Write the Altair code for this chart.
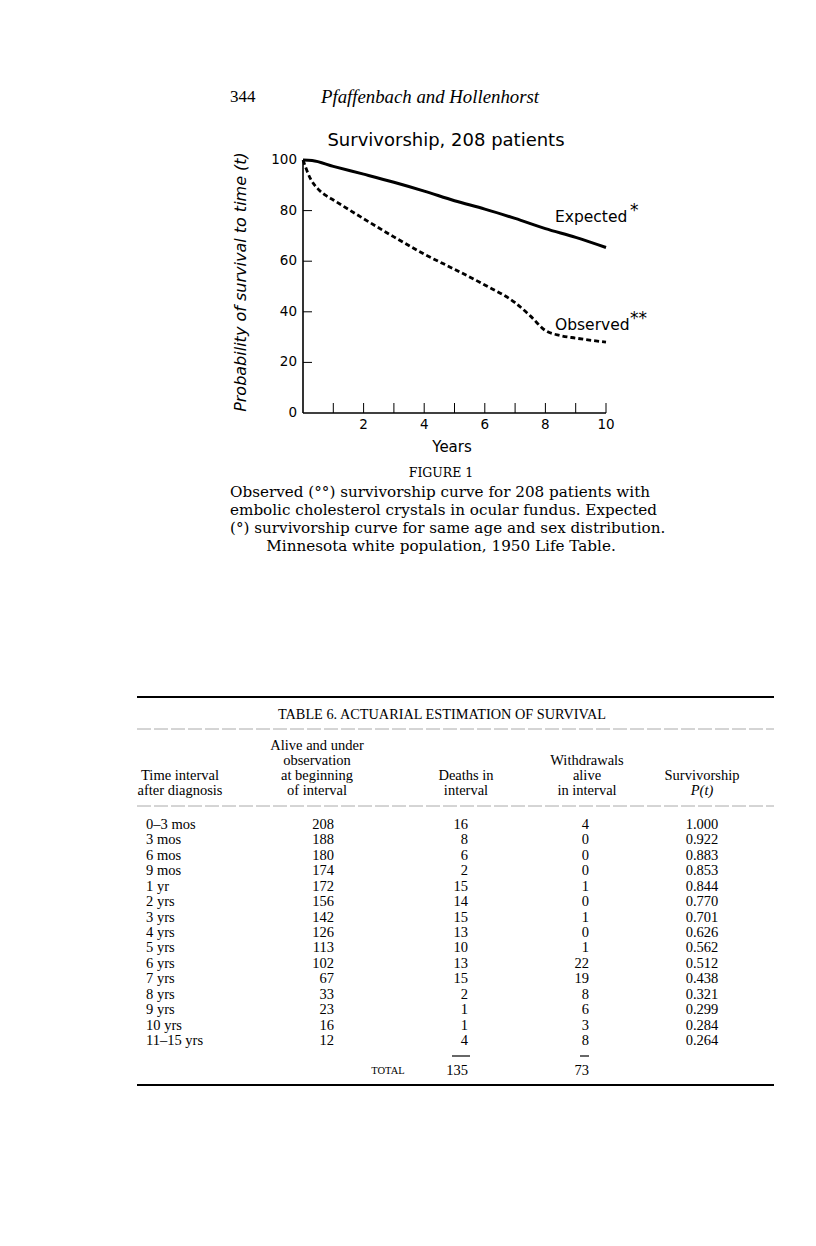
import altair as alt
import pandas as pd

# ---------------- data: survival curves ----------------
exp_years = [0, 0.3, 1, 2, 3, 4, 5, 6, 7, 8, 9, 10]
exp_pct = [100, 99.8, 97.5, 94.4, 91.2, 87.7, 83.9, 80.6, 76.9, 72.9, 69.4, 65.4]
obs_years = [0, 0.25, 0.5, 0.75, 1, 2, 3, 4, 5, 6, 7, 7.5, 8, 8.5, 9, 10]
obs_pct = [100, 92.5, 88.5, 86.0, 84.2, 76.8, 69.6, 62.8, 56.8, 50.6, 43.6, 38.4, 32.6, 30.6, 29.6, 28.0]

y_tick_values = [20, 40, 60, 80]
y_label_values = [0, 20, 40, 60, 80, 100]
x_tick_values = [1, 2, 3, 4, 5, 6, 7, 8, 9, 10]
x_label_values = [2, 4, 6, 8, 10]

# ---------------- data: table 6 ----------------
intervals = ["0–3 mos", "3 mos", "6 mos", "9 mos", "1 yr", "2 yrs", "3 yrs", "4 yrs",
             "5 yrs", "6 yrs", "7 yrs", "8 yrs", "9 yrs", "10 yrs", "11–15 yrs"]
alive = [208, 188, 180, 174, 172, 156, 142, 126, 113, 102, 67, 33, 23, 16, 12]
deaths = [16, 8, 6, 2, 15, 14, 15, 13, 10, 13, 15, 2, 1, 1, 4]
withdrawals = [4, 0, 0, 0, 1, 0, 1, 0, 1, 22, 19, 8, 6, 3, 8]
survivorship = ["1.000", "0.922", "0.883", "0.853", "0.844", "0.770", "0.701", "0.626",
                "0.562", "0.512", "0.438", "0.321", "0.299", "0.284", "0.264"]
total_deaths = "135"
total_withdrawals = "73"

headers = [
    ["Time interval", "after diagnosis"],
    ["Alive and under", "observation", "at beginning", "of interval"],
    ["Deaths in", "interval"],
    ["Withdrawals", "alive", "in interval"],
    ["Survivorship", "P(t)"],
]

caption_lines = [
    "Observed (°°) survivorship curve for 208 patients with",
    "embolic cholesterol crystals in ocular fundus. Expected",
    "(°) survivorship curve for same age and sex distribution.",
]
caption_last = "Minnesota white population, 1950 Life Table."

# ---------------- layout helpers ----------------
SANS = "DejaVu Sans"
SERIF = "Liberation Serif"
CSERIF = "DejaVu Serif"


def P(v):  # page coordinate -> chart coordinate (8px page margin)
    return v - 8


XS = alt.Scale(domain=[0, 10], range=[P(303), P(606)], nice=False, zero=False)
YS = alt.Scale(domain=[0, 100], range=[P(413), P(160)], nice=False, zero=False)


def label(text, x, y, size, font=SERIF, **kw):
    return alt.Chart(pd.DataFrame({"s": [text]})).mark_text(
        x=P(x), y=P(y), fontSize=size, font=font, color="black", baseline="middle", **kw
    ).encode(text="s:N")


def hrule(x1, x2, y, width=1.0, color="black", dash=None):
    kw = {} if dash is None else {"strokeDash": dash}
    return alt.Chart(pd.DataFrame({"a": [0]})).mark_rule(
        color=color, strokeWidth=width, **kw
    ).encode(x=alt.value(P(x1)), x2=alt.value(P(x2)), y=alt.value(P(y)))


layers = []

# ---------------- page header ----------------
layers.append(label("344", 230, 97, 17, SERIF, align="left"))
layers.append(label("Pfaffenbach and Hollenhorst", 430, 97, 18.8, SERIF, align="center", fontStyle="italic"))

# ---------------- figure ----------------
exp_df = pd.DataFrame({"t": exp_years, "v": exp_pct})
obs_df = pd.DataFrame({"t": obs_years, "v": obs_pct})

layers.append(
    alt.Chart(exp_df).mark_line(color="black", strokeWidth=3, interpolate="monotone").encode(
        x=alt.X("t:Q", scale=XS, axis=None), y=alt.Y("v:Q", scale=YS, axis=None)
    )
)
layers.append(
    alt.Chart(obs_df).mark_line(color="black", strokeWidth=2.8, strokeDash=[5, 3], interpolate="monotone").encode(
        x=alt.X("t:Q", scale=XS, axis=None), y=alt.Y("v:Q", scale=YS, axis=None)
    )
)

# axis lines
frame_df = pd.DataFrame({"x0": [0, 0], "x1": [0, 10], "y0": [0, 0], "y1": [100, 0]})
layers.append(
    alt.Chart(frame_df).mark_rule(color="black", strokeWidth=1.6).encode(
        x=alt.X("x0:Q", scale=XS, axis=None), x2="x1:Q",
        y=alt.Y("y0:Q", scale=YS, axis=None), y2="y1:Q",
    )
)
# y ticks (inward)
layers.append(
    alt.Chart(pd.DataFrame({"v": y_tick_values})).mark_rule(color="black", strokeWidth=1).encode(
        y=alt.Y("v:Q", scale=YS, axis=None), x=alt.value(P(303)), x2=alt.value(P(312))
    )
)
# x ticks (inward)
layers.append(
    alt.Chart(pd.DataFrame({"t": x_tick_values})).mark_rule(color="black", strokeWidth=1).encode(
        x=alt.X("t:Q", scale=XS, axis=None), y=alt.value(P(413)), y2=alt.value(P(403))
    )
)
# tick labels
layers.append(
    alt.Chart(pd.DataFrame({"v": y_label_values})).mark_text(
        x=P(297), align="right", baseline="middle", font=SANS, fontSize=13.5, color="black"
    ).encode(y=alt.Y("v:Q", scale=YS, axis=None), text="v:N")
)
layers.append(
    alt.Chart(pd.DataFrame({"t": x_label_values})).mark_text(
        y=P(425), align="center", baseline="middle", font=SANS, fontSize=13.5, color="black"
    ).encode(x=alt.X("t:Q", scale=XS, axis=None), text="t:N")
)

layers.append(label("Survivorship, 208 patients", 446, 141, 18, SANS, align="center"))
layers.append(label("Years", 452, 447, 15, SANS, align="center"))
layers.append(label("Probability of survival to time (t)", 241, 282, 16, SANS, align="center",
                    angle=270, fontStyle="italic"))
layers.append(label("Expected", 555, 217, 15.5, SANS, align="left"))
layers.append(label("*", 630, 211, 17, SANS, align="left"))
layers.append(label("Observed", 555, 325, 15.5, SANS, align="left"))
layers.append(label("**", 630, 319, 17, SANS, align="left"))

# ---------------- caption ----------------
layers.append(label("FIGURE 1", 441, 473, 12.5, CSERIF, align="center"))
for i, line in enumerate(caption_lines):
    layers.append(label(line, 230, 492 + 18 * i, 15.2, CSERIF, align="left"))
layers.append(label(caption_last, 441, 546, 15.2, CSERIF, align="center"))

# ---------------- table ----------------
layers.append(hrule(137, 774, 697, width=2.2))
layers.append(label("TABLE 6. ACTUARIAL ESTIMATION OF SURVIVAL", 442, 715, 14.3, SERIF, align="center"))
layers.append(hrule(137, 774, 729, width=1, color="#aaaaaa", dash=[14, 3]))

hdr_rows = []
for c, lines in enumerate(headers):
    n = len(lines)
    for j, s in enumerate(lines):
        hdr_rows.append({"text": s, "col": c, "ln": n - 1 - j, "ital": s == "P(t)"})
hdr_df = pd.DataFrame(hdr_rows)
HS = alt.Scale(domain=[0, 3], range=[P(791), P(746)], nice=False, zero=False)
col_centers = [180, 317, 466, 587, 702]
for c, cx in enumerate(col_centers):
    for ital in (False, True):
        layers.append(
            alt.Chart(hdr_df).transform_filter(
                (alt.datum.col == c) & (alt.datum.ital == ital)
            ).mark_text(
                x=P(cx), align="center", baseline="middle", font=SERIF, fontSize=14.5, color="black",
                fontStyle="italic" if ital else "normal",
            ).encode(y=alt.Y("ln:Q", scale=HS, axis=None), text="text:N")
        )
layers.append(hrule(137, 774, 806, width=1, color="#aaaaaa", dash=[14, 3]))

tbl = pd.DataFrame({
    "row": list(range(len(intervals))),
    "interval": intervals,
    "alive": alive,
    "deaths": deaths,
    "withdrawals": withdrawals,
    "surv": survivorship,
})
RS = alt.Scale(domain=[0, 14], range=[P(825), P(1041)], nice=False, zero=False)
col_specs = [("interval", 146, "left"), ("alive", 334, "right"), ("deaths", 468, "right"),
             ("withdrawals", 589, "right"), ("surv", 702, "center")]
for field, cx, al in col_specs:
    layers.append(
        alt.Chart(tbl).mark_text(
            x=P(cx), align=al, baseline="middle", font=SERIF, fontSize=14.5, color="black"
        ).encode(y=alt.Y("row:Q", scale=RS, axis=None), text=f"{field}:N")
    )

layers.append(hrule(452, 470, 1056, width=1.2))
layers.append(hrule(580, 589, 1056, width=1.2))
layers.append(label("TOTAL", 388, 1071, 10.5, SERIF, align="center"))
layers.append(label(total_deaths, 468, 1071, 14.5, SERIF, align="right"))
layers.append(label(total_withdrawals, 589, 1071, 14.5, SERIF, align="right"))
layers.append(hrule(137, 774, 1085, width=2.2))

chart = alt.layer(*layers).resolve_scale(x="independent", y="independent").properties(
    width=790, height=1200, autosize=alt.AutoSizeParams(type="none"), padding=0,
    background="white",
).configure_view(stroke=None)

chart.save("out.html", embed_options={"renderer": "svg", "actions": False})
